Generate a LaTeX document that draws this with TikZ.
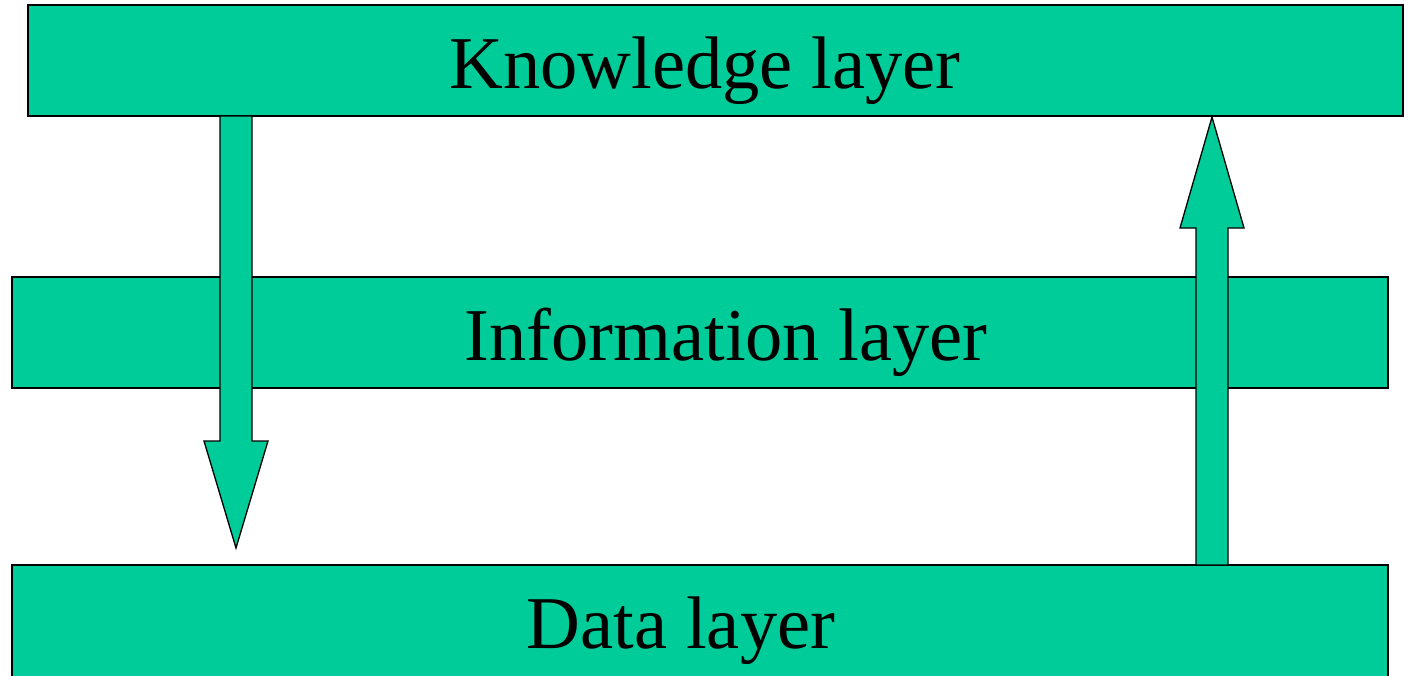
\documentclass[tikz,border=0pt]{standalone}
\usepackage{fontspec}
\setmainfont{Liberation Serif}
\definecolor{layergreen}{RGB}{0,204,153}
\begin{document}
\begin{tikzpicture}[x=1pt,y=-1pt,
  layerbox/.style={draw=black,line width=2pt,fill=layergreen},
  bigarrow/.style={draw=black,line width=1.3pt,fill=layergreen,line join=miter},
  label/.style={font=\fontsize{74.5}{80}\selectfont,anchor=base,inner sep=0pt}]
\useasboundingbox (0,0) rectangle (1404,675);
\clip (0,0) rectangle (1404,675);
\draw[layerbox] (28,5) rectangle (1403,116);
\draw[layerbox] (12,277) rectangle (1388,388);
\draw[layerbox] (12,565) rectangle (1388,700);
\node[label] (know) at (705,88) {Knowledge layer};
\node[label] (info) at (726,360) {Information layer};
\node[label] (data) at (681,648) {Data layer};
\coordinate (dtop) at (236,116);
\coordinate (dtip) at (236,548);
\coordinate (utop) at (1212,117);
\coordinate (ubot) at (1212,565);
\draw[bigarrow] ([xshift=-16]dtop) -- ([xshift=16]dtop) -- (252,441) -- (268,441) -- (dtip) -- (204,441) -- (220,441) -- cycle;
\draw[bigarrow] ([xshift=-16]ubot) -- ([xshift=16]ubot) -- (1228,228) -- (1244,228) -- (utop) -- (1180,228) -- (1196,228) -- cycle;
\end{tikzpicture}
\end{document}
